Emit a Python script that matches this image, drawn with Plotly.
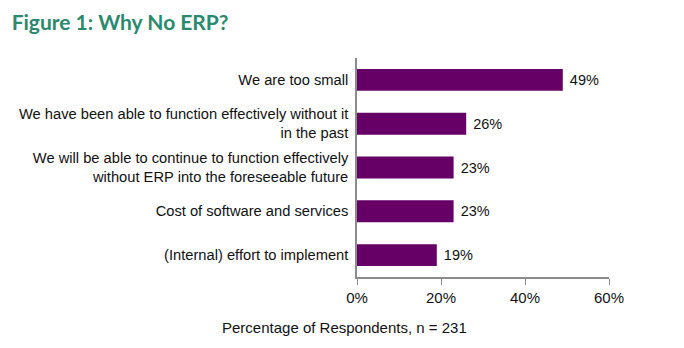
import plotly.graph_objects as go

categories = [
    "We are too small",
    "We have been able to function effectively without it<br>in the past",
    "We will be able to continue to function effectively<br>without ERP into the foreseeable future",
    "Cost of software and services",
    "(Internal) effort to implement",
]
values = [49, 26, 23, 23, 19]
value_labels = ["49%", "26%", "23%", "23%", "19%"]
tick_vals = [0, 20, 40, 60]
tick_text = ["0%", "20%", "40%", "60%"]

fig = go.Figure(go.Bar(
    y=categories, x=values, orientation="h",
    marker=dict(color="#660066", line=dict(width=0)),
    width=0.5,
    text=value_labels, textposition="outside",
    texttemplate="\u00a0%{text}",
    textfont=dict(family="Liberation Sans, Arial", size=14.5, color="#111111"),
    cliponaxis=False,
))

fig.update_layout(
    width=684, height=348,
    margin=dict(l=357, r=75, t=58, b=71),
    paper_bgcolor="white", plot_bgcolor="white",
    showlegend=False,
    font=dict(family="Liberation Sans, Arial", size=14.5, color="#111111"),
    title=dict(text="<b>Figure 1: Why No ERP?</b>", x=0.017, xanchor="left", y=0.935, yanchor="middle",
               font=dict(family="Lato", size=21, color="#2A8A6E")),
    xaxis=dict(range=[0, 60], tickvals=tick_vals, ticktext=tick_text, showgrid=False,
               zeroline=False, showline=True, linecolor="#8c8c8c", linewidth=1.5,
               ticks="outside", ticklen=6, tickcolor="#8c8c8c",
               tickfont=dict(size=15, color="#111111")),
    yaxis=dict(autorange="reversed", showgrid=False, zeroline=False, showline=True,
               linecolor="#8c8c8c", linewidth=1.5, ticks="", ticklabelstandoff=4,
               tickfont=dict(size=14.7, color="#111111")),
    annotations=[dict(text="Percentage of Respondents, n = 231", xref="paper", yref="paper",
                      x=(344 - 357) / 252, y=-(327 - 277) / 219, xanchor="center", yanchor="middle",
                      showarrow=False, font=dict(size=15, color="#111111"))],
)

fig.write_html("out.html")
